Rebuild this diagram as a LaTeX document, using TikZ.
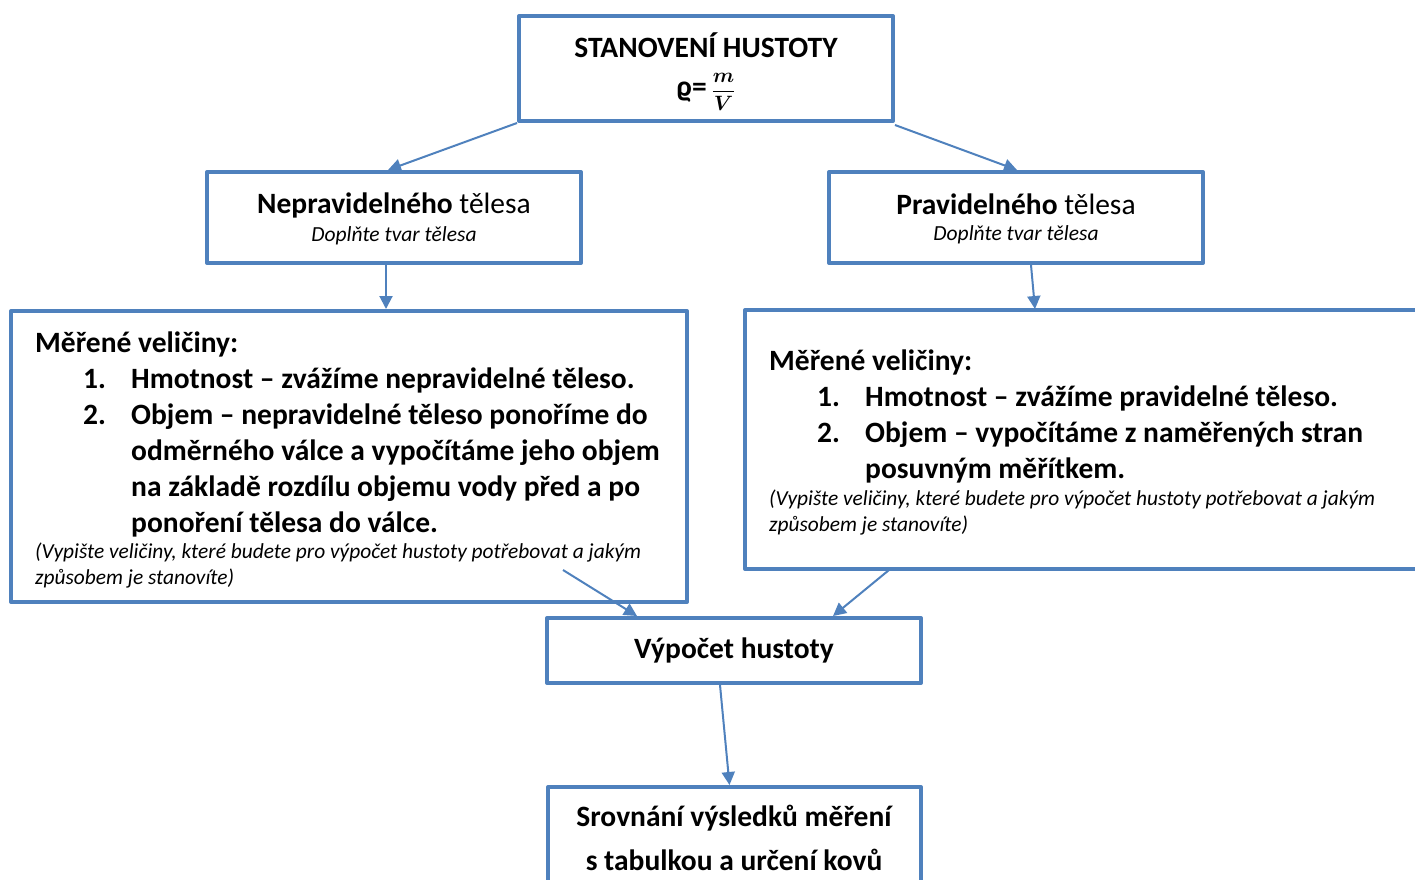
\documentclass[tikz,border=0pt]{standalone}
\usepackage{fontspec}
\usepackage{amsmath}
\setmainfont{Carlito}
\usetikzlibrary{arrows.meta,calc}
\definecolor{obox}{RGB}{79,129,189}
\begin{document}
\begin{tikzpicture}[x=1pt,y=-1pt,
  boxs/.style={draw=obox,line width=4pt,line join=round,inner sep=0pt},
  conn/.style={draw=obox,line width=2pt,-{Triangle[length=13pt,width=13pt]}},
  big/.style={font=\fontsize{29.5}{35}\selectfont\bfseries,anchor=base west,inner sep=0pt},
  med/.style={font=\fontsize{29.5}{35}\selectfont\bfseries,inner sep=0pt},
  note/.style={font=\fontsize{21.4}{26}\selectfont\itshape,anchor=base west,inner sep=0pt},
  sub/.style={font=\fontsize{21.5}{26}\selectfont\itshape,inner sep=0pt}]
\useasboundingbox (0,0) rectangle (1415,879);
\clip (0,0) rectangle (1415,879);
% boxes
\node[boxs,minimum width=374pt,minimum height=105pt] (top) at (706,68.5) {};
\node[boxs,minimum width=374pt,minimum height=91pt] (nep) at (394,217.5) {};
\node[boxs,minimum width=374pt,minimum height=91pt] (pra) at (1016,217.5) {};
\node[boxs,minimum width=676pt,minimum height=291pt] (lbig) at (349,456.5) {};
\node[boxs,minimum width=690pt,minimum height=259pt] (rbig) at (1090,439.5) {};
\node[boxs,minimum width=374pt,minimum height=65pt] (vyp) at (734,650.5) {};
\node[boxs,minimum width=373pt,minimum height=120pt] (srov) at (734.5,847) {};
% texts
\node[med] (t1) at (706,45) {STANOVENÍ HUSTOTY};
\node[inner sep=0pt,font=\bfseries] (t2) at (706,92) {{\fontsize{29.5}{35}\selectfont ϱ=}\hspace{5pt}{\fontsize{20}{24}\selectfont$\dfrac{\boldsymbol{m}}{\boldsymbol{V}}$}};
\node[font=\fontsize{29.5}{35}\selectfont,inner sep=0pt] (n1) at (394,205) {\textbf{Nepravidelného} tělesa};
\node[sub] (n2) at (394,236) {Doplňte tvar tělesa};
\node[font=\fontsize{29.5}{35}\selectfont,inner sep=0pt] (p1) at (1016,204) {\textbf{Pravidelného} tělesa};
\node[sub] (p2) at (1016,235) {Doplňte tvar tělesa};
% left big
\node[big] (l0) at (35,352) {Měřené veličiny:};
\node[big] (l1n) at (83,388) {1.};
\node[big] (l1) at (131,388) {Hmotnost – zvážíme nepravidelné těleso.};
\node[big] (l2n) at (83,424) {2.};
\node[big] (l2) at (131,424) {Objem – nepravidelné těleso ponoříme do};
\node[big] (l3) at (131,460) {odměrného válce a vypočítáme jeho objem};
\node[big] (l4) at (131,496) {na základě rozdílu objemu vody před a po};
\node[big] (l5) at (131,532) {ponoření tělesa do válce.};
\node[note] (l6) at (35,558) {(Vypište veličiny, které budete pro výpočet hustoty potřebovat a jakým};
\node[note] (l7) at (35,584) {způsobem je stanovíte)};
% right big
\node[big] (r0) at (769,370) {Měřené veličiny:};
\node[big] (r1n) at (817,406) {1.};
\node[big] (r1) at (865,406) {Hmotnost – zvážíme pravidelné těleso.};
\node[big] (r2n) at (817,442) {2.};
\node[big] (r2) at (865,442) {Objem – vypočítáme z naměřených stran};
\node[big] (r3) at (865,478) {posuvným měřítkem.};
\node[note] (r4) at (769,505) {(Vypište veličiny, které budete pro výpočet hustoty potřebovat a jakým};
\node[note] (r5) at (769,531) {způsobem je stanovíte)};
% bottom texts
\node[med] (v1) at (734,650) {Výpočet hustoty};
\node[med] (s1) at (734,818) {Srovnání výsledků měření};
\node[med] (s2) at (734,860) {s tabulkou a určení kovů};
% connectors
\coordinate (c5) at (563,570);
\coordinate (c6) at (889,570);
\draw[conn] (top.south west) -- ([xshift=-6pt]nep.north);
\draw[conn] ([yshift=-2pt]top.south east) -- ([xshift=1pt]pra.north);
\draw[conn] ([xshift=-8pt]nep.south) -- ([xshift=-8pt]nep.south |- lbig.north);
\draw[conn] ([xshift=15pt]pra.south) -- ([xshift=19pt,yshift=-1pt]pra.south |- rbig.north);
\draw[conn] (c5) -- ([xshift=-97pt]vyp.north);
\draw[conn] (c6) -- ([xshift=99pt]vyp.north);
\draw[conn] ([xshift=-14pt]vyp.south) -- ([xshift=-5pt]srov.north);
\end{tikzpicture}
\end{document}
